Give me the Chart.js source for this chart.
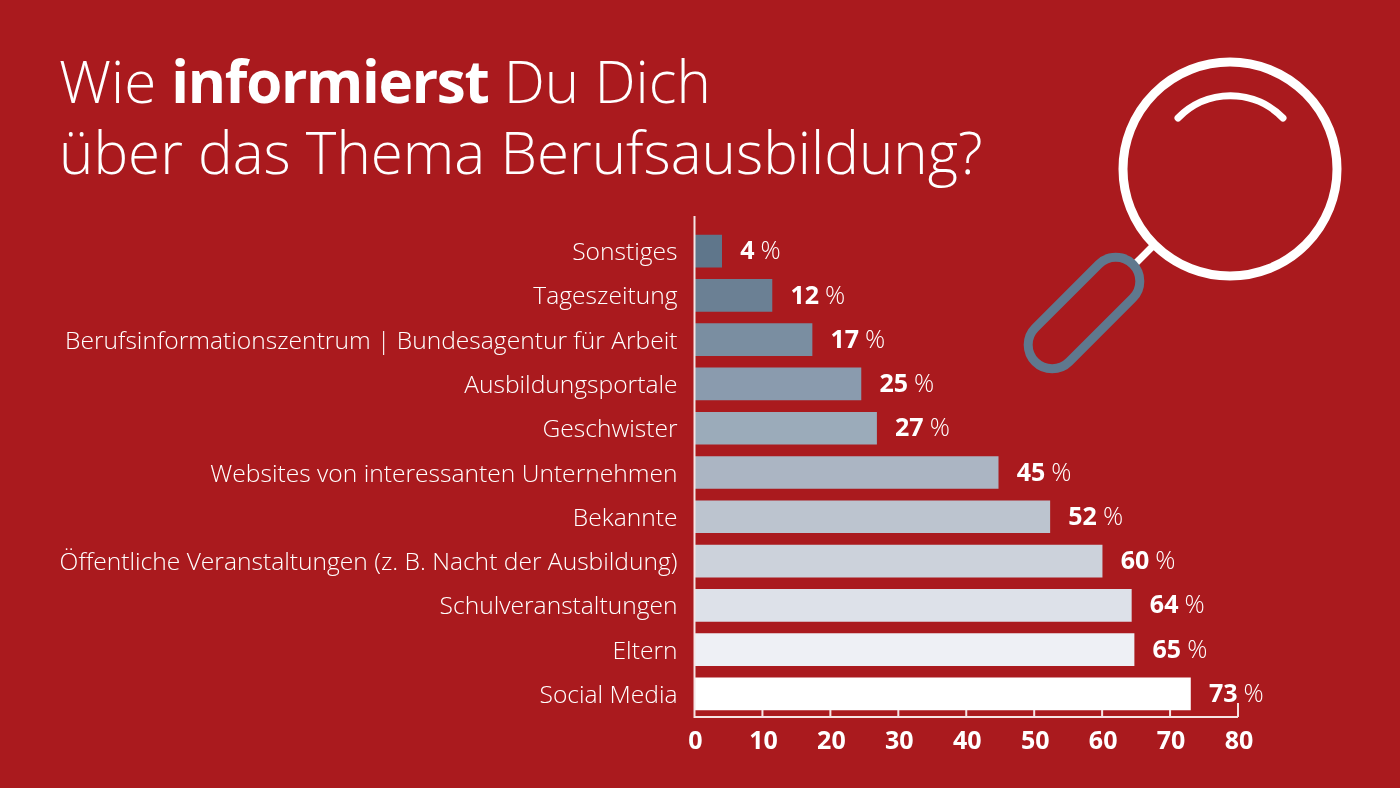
<!DOCTYPE html>
<html lang="de">
<head>
<meta charset="utf-8">
<title>Wie informierst Du Dich</title>
<script src="https://cdn.jsdelivr.net/npm/chart.js@4"></script>
<style>
  html, body { margin: 0; padding: 0; background: #aa1a1e; }
  #wrap { position: relative; width: 1400px; height: 788px; overflow: hidden; font-family: "Open Sans", sans-serif; }
  canvas { position: absolute; left: 0; top: 0; }
  h1 { position: absolute; left: 59px; top: 45px; margin: 0; color: #fff; font-size: 58.3px; line-height: 71px; font-weight: 300; white-space: nowrap; }
  h1 b { font-weight: 700; letter-spacing: -1.3px; }
  svg { position: absolute; left: 0; top: 0; }
</style>
</head>
<body>
<div id="wrap">
  <canvas id="barChart" width="1400" height="788"></canvas>
  <h1>Wie <b>informierst</b> Du Dich<br>über das Thema Berufsausbildung?</h1>
  <svg width="1400" height="788" fill="none">
    <circle cx="1230" cy="169" r="107" stroke="#fff" stroke-width="9"/>
    <path d="M1178 118 A73 73 0 0 1 1283 118" stroke="#fff" stroke-width="7" stroke-linecap="round"/>
    <path d="M1152 247 L1136 263" stroke="#fff" stroke-width="7"/>
    <rect x="1015" y="289" width="138" height="48" rx="24" transform="rotate(-45 1084 313)" stroke="#5f788e" stroke-width="9"/>
  </svg>
</div>
<script>
const categories = ['Sonstiges', 'Tageszeitung', 'Berufsinformationszentrum | Bundesagentur für Arbeit',
    'Ausbildungsportale', 'Geschwister', 'Websites von interessanten Unternehmen', 'Bekannte',
    'Öffentliche Veranstaltungen (z. B. Nacht der Ausbildung)', 'Schulveranstaltungen', 'Eltern', 'Social Media'];
// bar lengths as measured against the axis, the printed labels are rounded
const values = [4, 11.4, 17.3, 24.5, 26.8, 44.7, 52.3, 60, 64.3, 64.7, 73];
const valueLabels = ['4', '12', '17', '25', '27', '45', '52', '60', '64', '65', '73'];
const barColors = ['#5f768b', '#6b8094', '#7a8ea1', '#8a9bae', '#9babba', '#abb5c3', '#bcc4cf', '#ccd2db', '#dde1e9', '#eef0f5', '#ffffff'];
const xTicks = [0, 10, 20, 30, 40, 50, 60, 70, 80];

const fontName = '"Open Sans", sans-serif';

// value labels and the axis lines with their inward ticks
const decorations = {
    id: 'decorations',
    afterDatasetsDraw(chart) {
        const ctx = chart.ctx;
        const x = chart.scales.x;
        const y = chart.scales.y;
        const base = chart.chartArea.bottom;

        ctx.save();
        ctx.textBaseline = 'middle';
        ctx.fillStyle = '#fff';
        values.forEach(function (v, i) {
            const px = x.getPixelForValue(v) + 18.5;
            const py = y.getPixelForValue(i) + 1;
            ctx.font = '700 25px ' + fontName;
            const num = valueLabels[i];
            ctx.fillText(num, px, py);
            const w = ctx.measureText(num).width;
            ctx.font = '300 25px ' + fontName;
            ctx.fillText('%', px + w + 6, py);
        });

        ctx.strokeStyle = '#f6e4e4';
        ctx.lineWidth = 2;
        ctx.beginPath();
        ctx.moveTo(x.getPixelForValue(0), chart.chartArea.top - 13);
        ctx.lineTo(x.getPixelForValue(0), base + 1);
        ctx.lineTo(x.getPixelForValue(80), base + 1);
        xTicks.forEach(function (t) {
            if (t === 0) return;
            const len = t === 80 ? 14 : 7;
            ctx.moveTo(x.getPixelForValue(t), base + 1);
            ctx.lineTo(x.getPixelForValue(t), base + 1 - len);
        });
        ctx.stroke();
        ctx.restore();
    }
};

const data = {
    labels: categories,
    datasets: [{
        data: values,
        backgroundColor: barColors,
        barThickness: 32,
        borderWidth: 0
    }]
};

const options = {
    indexAxis: 'y',
    responsive: false,
    animation: false,
    layout: { padding: { top: 229, right: 162, bottom: 0, left: 0 } },
    plugins: { legend: { display: false }, tooltip: { enabled: false } },
    scales: {
        x: {
            min: 0,
            max: 80,
            afterFit(scale) { scale.height = 72; },
            afterBuildTicks(scale) { scale.ticks = xTicks.map(function (v) { return { value: v }; }); },
            grid: { display: false },
            border: { display: false },
            ticks: {
                color: '#fff',
                padding: 3,
                labelOffset: 1,
                maxRotation: 0,
                font: { family: fontName, size: 25, weight: '700' }
            }
        },
        y: {
            afterFit(scale) { scale.width = 694.5; },
            grid: { display: false },
            border: { display: false },
            ticks: {
                color: '#fff',
                padding: 9,
                labelOffset: 2,
                autoSkip: false,
                font: { family: fontName, size: 24.6, weight: '300' }
            }
        }
    }
};

const ctx = document.getElementById('barChart').getContext('2d');
new Chart(ctx, { type: 'bar', data: data, options: options, plugins: [decorations] });
</script>
</body>
</html>
